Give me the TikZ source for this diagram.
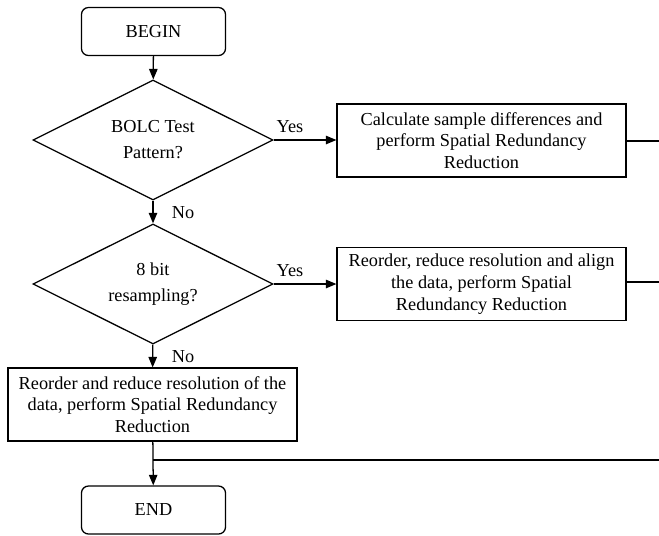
\documentclass[tikz,border=0pt]{standalone}
\usepackage{fontspec}
\setmainfont{Liberation Serif}
\usetikzlibrary{positioning,arrows.meta,shapes.geometric}
\tikzset{
  terminal/.style={
    draw, line width=0.9pt, rounded corners=5pt,
    minimum width=3.6cm, minimum height=1.2cm, align=center,
    font=\fontsize{13}{15.4}\selectfont},
  decision/.style={
    draw, line width=0.9pt, diamond, aspect=2, inner sep=0pt,
    minimum width=6cm, minimum height=3cm, align=center,
    font=\fontsize{13}{18.5}\selectfont},
  process/.style={
    draw, line width=0.9pt, minimum width=7.22cm, minimum height=1.82cm,
    align=center, inner sep=2pt, font=\fontsize{13}{15.4}\selectfont},
  link/.style={draw, line width=0.9pt, -{Triangle[length=7.5pt, width=6pt]}},
  plain/.style={draw, line width=0.9pt},
  answer/.style={font=\fontsize{13}{15}\selectfont, inner sep=0pt},
}

\begin{document}
\begin{tikzpicture}[x=0.025cm, y=-0.025cm]
\useasboundingbox (0,0) rectangle (659,535);

% ---- main column
\node[terminal] (BEGIN) at (153.5, 31.5) {BEGIN};
\node[decision] (BOLC)  at (153, 140) {BOLC Test\\ Pattern?};
\node[decision] (RES8)  at (153, 284) {8 bit\\ resampling?};
\node[process]  (SRR3)  at (152.5, 404.5)
  {Reorder and reduce resolution of the\\ data, perform Spatial Redundancy\\ Reduction};
\node[terminal] (END)   at (153.5, 510) {END};

% ---- right column
\node[process] (SRR1) at (481.5, 140.5)
  {Calculate sample differences and\\ perform Spatial Redundancy\\ Reduction};
\node[process] (SRR2) at (481.5, 284)
  {Reorder, reduce resolution and align\\ the data, perform Spatial\\ Redundancy Reduction};

% ---- answers
\node[answer] (Y1) at (290, 127) {Yes};
\node[answer] (Y2) at (290, 271) {Yes};
\node[answer] (N1) at (183, 213) {No};
\node[answer] (N2) at (183, 357) {No};

% ---- loose ends (leave the picture on the right)
\coordinate (OUT1)  at (659, 141);
\coordinate (OUT2)  at (659, 282);
\coordinate (MERGE) at (153, 460);
\coordinate (OUT3)  at (659, 460);

\draw[link] (BEGIN) -- (BOLC);
\draw[link] (BOLC) -- (RES8);
\draw[link] (RES8) -- (SRR3);
\draw[link] (SRR3) -- (END);
\draw[link] (BOLC.east) -- (BOLC.east -| SRR1.west);
\draw[link] (RES8.east) -- (RES8.east -| SRR2.west);

\draw[plain] (SRR1.east |- OUT1) -- (OUT1);
\draw[plain] (SRR2.east |- OUT2) -- (OUT2);
\draw[plain] (MERGE) -- (OUT3);

\end{tikzpicture}
\end{document}
